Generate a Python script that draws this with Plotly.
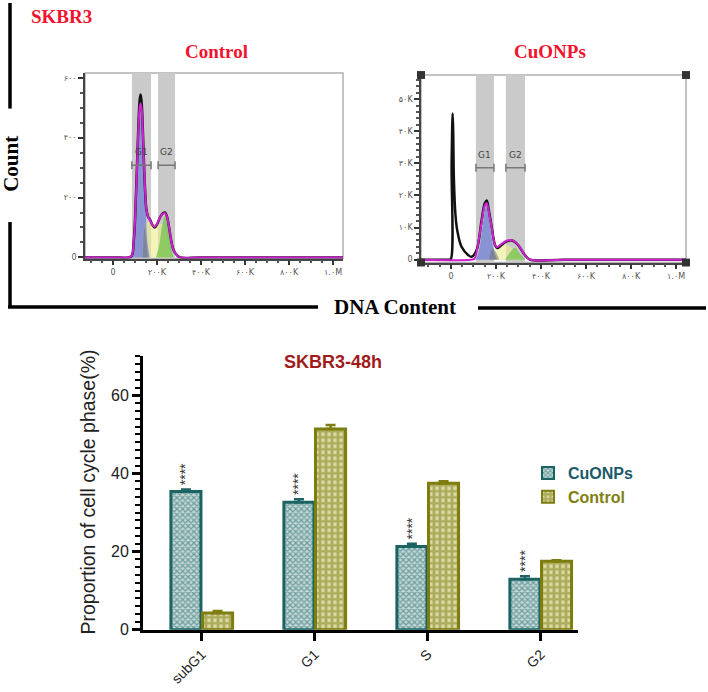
import plotly.graph_objects as go

# ---------------- bar chart data ----------------
phases = ['subG1', 'G1', 'S', 'G2']
cuonps = [35.4, 32.6, 21.3, 12.9]
cuonps_err = [0.5, 0.8, 0.7, 0.8]
control = [4.3, 51.4, 37.5, 17.5]
control_err = [0.5, 1.0, 0.5, 0.3]

# ---------------- histogram data (x in K, y in counts) ----------------
# Control histogram
ctl_x = [-127, 0, 70, 85, 95, 105, 115, 122, 126, 131, 138, 145, 152, 160, 168, 178, 190, 200, 215, 228, 236, 245, 255, 265, 275, 290, 305, 400, 700, 1045]
ctl_total = [0, 0, 0, 5, 60, 220, 430, 530, 544, 510, 380, 240, 160, 135, 127, 110, 100, 110, 135, 148, 150, 138, 100, 55, 25, 8, 0, 0, 0, 0]
ctl_fit = [0, 0, 0, 5, 60, 215, 420, 505, 515, 490, 375, 240, 160, 135, 125, 110, 102, 112, 135, 146, 148, 136, 100, 55, 25, 8, 0, 0, 0, 0]
ctl_g1_x = [85, 95, 105, 115, 126, 137, 147, 157, 167]
ctl_g1_y = [0, 50, 200, 420, 515, 420, 200, 50, 0]
ctl_s_x = [132, 145, 160, 180, 200, 227, 245, 268]
ctl_s_y = [0, 110, 118, 115, 112, 110, 60, 0]
ctl_g2_x = [195, 210, 222, 236, 250, 262, 275]
ctl_g2_y = [0, 40, 100, 140, 100, 40, 0]
ctl_deb_x = [135, 143, 150, 158]
ctl_deb_y = [0, 100, 60, 0]

# CuONPs histogram (y in K counts)
cu_x = [-133, -10, -1.5, 3, 7.5, 10, 13, 20, 28, 47, 77, 92, 114, 136, 150, 159, 168, 181, 196, 205, 225, 245, 262, 280, 299, 315, 329, 351, 500, 1044]
cu_total = [0, 0, 0, 30, 45.5, 40, 25.5, 14, 9.1, 4, 1.4, 0.9, 3, 12.2, 17.5, 18.4, 15.5, 10.2, 4.5, 3.6, 4.6, 5.6, 6, 5.7, 4.5, 2.8, 1.4, 0, 0, 0]
cu_fit_x = [-133, 90, 105, 114, 136, 150, 159, 168, 181, 196, 205, 225, 245, 262, 280, 299, 315, 329, 351, 500, 1044]
cu_fit = [0, 0, 0.3, 2.5, 11.5, 16.8, 17.6, 15, 10, 4.6, 3.9, 4.9, 5.8, 6.1, 5.8, 4.6, 2.9, 1.4, 0, 0, 0]
cu_g1_x = [110, 125, 140, 159, 175, 190, 205]
cu_g1_y = [0, 3, 10, 17.5, 10, 3, 0]
cu_s_x = [175, 195, 215, 235, 260, 290, 310]
cu_s_y = [0, 3.5, 4.6, 4.8, 4.2, 2.5, 0]
cu_g2_x = [240, 260, 284, 305, 330]
cu_g2_y = [0, 2, 3.7, 2, 0]
cu_deb_x = [170, 185, 198, 215]
cu_deb_y = [0, 3.5, 2.5, 0]

# gates
ctl_gates = [('G1', 86, 173), ('G2', 205, 282)]
cu_gates = [('G1', 111, 191), ('G2', 244, 329)]
ctl_gate_y = 308
cu_gate_y = 28.6

hist_xticks = [0, 200, 400, 600, 800, 1000]
hist_xtext = ['0', '۲۰۰K', '۴۰۰K', '۶۰۰K', '۸۰۰K', '۱.۰M']
ctl_yticks = [0, 200, 400, 600]
ctl_ytext = ['0', '۲۰۰', '۴۰۰', '۶۰۰']
cu_yticks = [0, 10, 20, 30, 40, 50]
cu_ytext = ['0', '۱۰K', '۲۰K', '۳۰K', '۴۰K', '۵۰K']

W, H = 708, 692
def px(x):
    return x / W
def py(y):
    return 1 - y / H

teal = '#1c6464'
olive = '#7d7d10'
red = '#f2132e'

fig = go.Figure()

# ---------------- bar chart ----------------
fig.add_trace(go.Bar(
    x=phases, y=cuonps, name="<b><span style='color:#1a5a6a'>CuONPs</span></b>",
    marker=dict(color='white', line=dict(color=teal, width=3),
                pattern=dict(shape='x', fgcolor=teal, bgcolor='#c4d8d8', size=4, solidity=0.55)),
    error_y=dict(type='data', symmetric=False, array=cuonps_err, arrayminus=[0] * 4,
                 color=teal, thickness=2.5, width=5),
    xaxis='x', yaxis='y'))
fig.add_trace(go.Bar(
    x=phases, y=control, name="<b><span style='color:#808010'>Control</span></b>",
    marker=dict(color='white', line=dict(color=olive, width=3),
                pattern=dict(shape='+', fgcolor=olive, bgcolor='#dcdba8', size=6, solidity=0.7)),
    error_y=dict(type='data', symmetric=False, array=control_err, arrayminus=[0] * 4,
                 color=olive, thickness=2.5, width=5),
    xaxis='x', yaxis='y'))

annotations = []
for cat, v, e in zip(phases, cuonps, cuonps_err):
    annotations.append(dict(x=cat, y=v + e, xref='x', yref='y', text='****', showarrow=False,
                            textangle=-90, xshift=-16, yshift=15, xanchor='center', yanchor='middle',
                            font=dict(size=14, color='#333', family='Arial')))

# ---------------- histograms ----------------
def add_hist(xa, ya, tot_x, tot_y, fit_x, fit_y, comps):
    for cx, cy, col in comps:
        fig.add_trace(go.Scatter(x=cx, y=cy, mode='lines', line=dict(width=0, shape='spline'),
                                 fill='tozeroy', fillcolor=col, showlegend=False, xaxis=xa, yaxis=ya))
    fig.add_trace(go.Scatter(x=tot_x, y=tot_y, mode='lines', line=dict(color='#111', width=2.5, shape='spline'),
                             showlegend=False, xaxis=xa, yaxis=ya))
    fig.add_trace(go.Scatter(x=fit_x, y=fit_y, mode='lines', line=dict(color='#d020d0', width=2, shape='spline'),
                             showlegend=False, xaxis=xa, yaxis=ya))

blue = 'rgba(90,110,215,0.6)'
yellow = 'rgba(235,235,140,0.6)'
green = 'rgba(110,195,70,0.7)'
gray = 'rgba(110,110,110,0.5)'

add_hist('x2', 'y2', ctl_x, ctl_total, ctl_x, ctl_fit,
         [(ctl_s_x, ctl_s_y, yellow), (ctl_g1_x, ctl_g1_y, blue), (ctl_g2_x, ctl_g2_y, green),
          (ctl_deb_x, ctl_deb_y, gray)])
add_hist('x3', 'y3', cu_x, cu_total, cu_fit_x, cu_fit,
         [(cu_s_x, cu_s_y, yellow), (cu_g1_x, cu_g1_y, blue), (cu_g2_x, cu_g2_y, green),
          (cu_deb_x, cu_deb_y, gray)])

shapes = []
for xa, ya, gates, gy in [('x2', 'y2', ctl_gates, ctl_gate_y), ('x3', 'y3', cu_gates, cu_gate_y)]:
    # frame
    shapes.append(dict(type='rect', xref=xa + ' domain', yref=ya + ' domain', x0=0, x1=1, y0=0, y1=1,
                       line=dict(color='#b0b0b0', width=1.5), layer='below'))
    for name, g0, g1 in gates:
        shapes.append(dict(type='rect', xref=xa, yref=ya + ' domain', x0=g0, x1=g1, y0=0, y1=1,
                           fillcolor='#cacaca', line=dict(width=0), layer='below'))
        shapes.append(dict(type='line', xref=xa, yref=ya, x0=g0, x1=g1, y0=gy, y1=gy,
                           line=dict(color='#777', width=1.5)))
        annotations.append(dict(x=(g0 + g1) / 2, y=gy, xref=xa, yref=ya, text=name, showarrow=False,
                                yshift=13, xanchor='center', yanchor='middle',
                                font=dict(size=9, color='#444', family='DejaVu Sans')))
        # gate end caps (pixel sized)
        for gx in (g0, g1):
            shapes.append(dict(type='line', xref=xa, yref=ya, ysizemode='pixel',
                               yanchor=gy, x0=gx, x1=gx, y0=-4, y1=4, line=dict(color='#777', width=1.5)))

# corner squares on the CuONPs frame
for cx in (421, 686):
    for cy in (76, 266):
        shapes.append(dict(type='rect', xref='paper', yref='paper', x0=px(cx - 4), x1=px(cx + 4),
                           y0=py(cy + 4), y1=py(cy - 4), fillcolor='#333', line=dict(width=0)))

# decorative outer lines
line_style = dict(color='black', width=3.5)
shapes += [
    dict(type='line', xref='paper', yref='paper', x0=px(10), x1=px(10), y0=py(3), y1=py(110), line=line_style),
    dict(type='line', xref='paper', yref='paper', x0=px(10), x1=px(10), y0=py(225), y1=py(311), line=line_style),
    dict(type='line', xref='paper', yref='paper', x0=px(8), x1=px(318), y0=py(311), y1=py(311), line=line_style),
    dict(type='line', xref='paper', yref='paper', x0=px(478), x1=px(706), y0=py(312), y1=py(312), line=line_style),
]

serif = 'Liberation Serif'
def label(x, y, text, size, color, family, angle=0):
    return dict(x=px(x), y=py(y), xref='paper', yref='paper', text=text, showarrow=False,
                xanchor='center', yanchor='middle', textangle=angle,
                font=dict(size=size, color=color, family=family))

annotations += [
    label(61, 17, '<b>SKBR3</b>', 19, red, serif),
    label(217, 52, '<b>Control</b>', 19, red, serif),
    label(550, 52, '<b>CuONPs</b>', 19, red, serif),
    label(11, 166, '<b>Count</b>', 21, 'black', serif, -90),
    label(395, 311, '<b>DNA Content</b>', 21, 'black', serif),
    label(333, 367, '<b>SKBR3-48h</b>', 18, '#a01c1c', 'Arial'),
    label(88, 499, 'Proportion of cell cycle phase(%)', 19.5, '#222', 'Arial', -90),
]

hist_axis = dict(showgrid=False, zeroline=False, showline=True, linecolor='#444', linewidth=1.5,
                 ticks='outside', ticklen=5, tickwidth=2, tickcolor='#333',
                 tickfont=dict(size=8, color='#555', family='DejaVu Sans'))

fig.update_layout(
    width=W, height=H, margin=dict(l=0, r=0, t=0, b=0),
    paper_bgcolor='white', plot_bgcolor='rgba(0,0,0,0)',
    barmode='group', bargap=0.44, bargroupgap=0.05,
    xaxis=dict(domain=[px(143), px(578)], anchor='y', range=[-0.52, 3.33], showgrid=False,
               showline=True, linecolor='black', linewidth=3, ticks='outside', ticklen=8, tickwidth=3,
               tickcolor='black', tickangle=-45, ticklabelstandoff=0,
               tickfont=dict(size=14, color='#222', family='Arial')),
    yaxis=dict(domain=[py(638), py(361)], anchor='x', range=[0, 70], showgrid=False, zeroline=False,
               showline=True, linecolor='black', linewidth=3, ticks='outside', ticklen=8, tickwidth=3,
               tickcolor='black', tickvals=[0, 20, 40, 60], tickfont=dict(size=16, color='#222', family='Arial'),
               minor=dict(ticks='outside', ticklen=5, tickwidth=2, tickcolor='black', dtick=2)),
    xaxis2=dict(hist_axis, domain=[px(85), px(343)], anchor='y2', range=[-127, 1045],
                tickvals=hist_xticks, ticktext=hist_xtext,
                minor=dict(ticks='outside', ticklen=3, dtick=50, tickcolor='#555')),
    yaxis2=dict(hist_axis, domain=[py(262), py(74)], anchor='x2', range=[-4, 616],
                tickvals=ctl_yticks, ticktext=ctl_ytext,
                minor=dict(ticks='outside', ticklen=3, dtick=50, tickcolor='#555')),
    xaxis3=dict(hist_axis, domain=[px(421), px(686)], anchor='y3', range=[-133, 1044],
                tickvals=hist_xticks, ticktext=hist_xtext,
                minor=dict(ticks='outside', ticklen=3, dtick=50, tickcolor='#555')),
    yaxis3=dict(hist_axis, domain=[py(266), py(76)], anchor='x3', range=[-0.9, 57.5],
                tickvals=cu_yticks, ticktext=cu_ytext,
                minor=dict(ticks='outside', ticklen=3, dtick=2, tickcolor='#555')),
    legend=dict(x=px(528), y=py(462), xanchor='left', yanchor='top', bgcolor='rgba(0,0,0,0)',
                font=dict(size=16, family='Arial'), itemsizing='constant', tracegroupgap=4),
    shapes=shapes, annotations=annotations,
    showlegend=True,
)

# the browser's default 8px body margin would push the figure off the window
fig.write_html("out.html", config={'displayModeBar': False},
               post_script="document.body.style.margin = '0';")
